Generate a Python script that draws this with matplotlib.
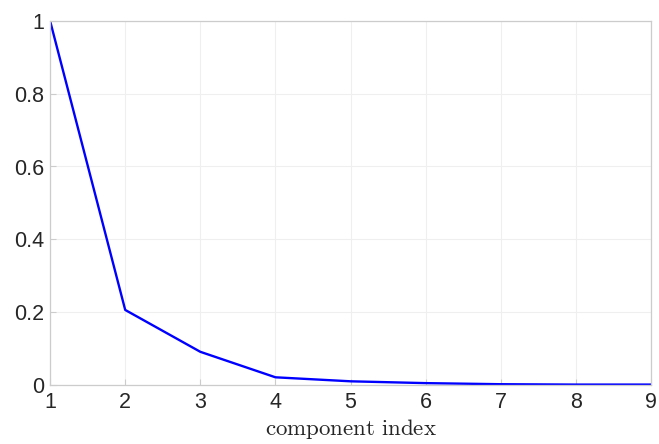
import matplotlib.pyplot as plt

plt.rcParams['mathtext.fontset'] = 'cm'

comp = [1, 2, 3, 4, 5, 6, 7, 8, 9]
vals = [1.0, 0.206, 0.091, 0.021, 0.010, 0.005, 0.002, 0.001, 0.001]

fig = plt.figure(figsize=(6.59, 4.44), dpi=100)
ax = fig.add_axes([0.076, 0.133, 0.912, 0.820])

ax.plot(comp, vals, color='#0000ff', lw=1.7)

ax.set_xlim(1, 9)
ax.set_ylim(0, 1)
ax.set_xticks(comp)
ax.set_yticks([0, 0.2, 0.4, 0.6, 0.8, 1])
ax.set_yticklabels(['0', '0.2', '0.4', '0.6', '0.8', '1'])
ax.grid(True, color='#efefef', lw=0.8)

for s in ax.spines.values():
    s.set_color('#cccccc')
    s.set_linewidth(0.9)

ax.tick_params(direction='in', length=4, color='#cccccc', labelsize=15.5,
               labelcolor='#262626')
ax.tick_params(axis='x', pad=5)
ax.tick_params(axis='y', pad=4)
for lab in ax.get_xticklabels() + ax.get_yticklabels():
    lab.set_family('Liberation Sans')

ax.set_xlabel(r'$\mathrm{component\ index}$', fontsize=16.5, color='#262626', labelpad=3)

fig.savefig('out.png', dpi=100)
